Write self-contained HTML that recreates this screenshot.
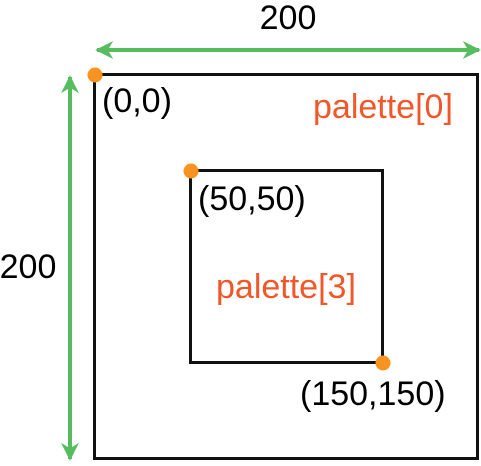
<!DOCTYPE html>
<html><head><meta charset="utf-8"><style>
html,body{margin:0;padding:0;background:#fff;}
svg text{font-family:"Liberation Sans",sans-serif;font-size:34px;}
</style></head><body>
<svg width="481" height="461" viewBox="0 0 481 461">
<defs>
<marker id="ah" viewBox="0 0 10 10" refX="9" refY="5" markerWidth="4.5" markerHeight="4.5" orient="auto-start-reverse"><path d="M0,0 L10,5 L0,10 L3,5 Z" fill="#55bd5f"/></marker>
</defs>
<line x1="97" y1="50" x2="479" y2="50" stroke="#55bd5f" stroke-width="4" marker-start="url(#ah)" marker-end="url(#ah)"/>
<line x1="70" y1="77" x2="70" y2="459" stroke="#55bd5f" stroke-width="4" marker-start="url(#ah)" marker-end="url(#ah)"/>
<text x="288" y="29" text-anchor="middle" font-size="30">200</text>
<text x="28" y="278" text-anchor="middle" font-size="30">200</text>
<rect x="94.5" y="74.5" width="383" height="384" fill="none" stroke="#111" stroke-width="3"/>
<rect x="190.5" y="170.5" width="192" height="192" fill="none" stroke="#111" stroke-width="3"/>
<circle cx="95" cy="75" r="7.5" fill="#f7931e"/>
<circle cx="191" cy="171" r="7.5" fill="#f7931e"/>
<circle cx="383" cy="363" r="7.5" fill="#f7931e"/>
<text x="102" y="112">(0,0)</text>
<text x="198" y="210">(50,50)</text>
<text x="300" y="405">(150,150)</text>
<text x="313" y="118" fill="#f0582a">palette[0]</text>
<text x="216" y="298" fill="#f0582a">palette[3]</text>
</svg>
</body></html>
